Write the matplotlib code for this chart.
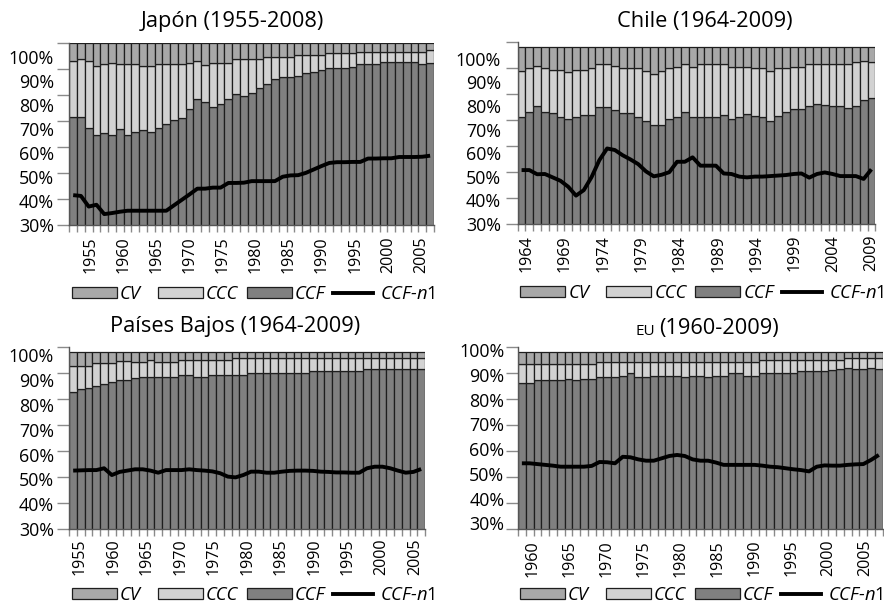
import matplotlib
matplotlib.use('Agg')
import matplotlib.pyplot as plt
from matplotlib.patches import Patch
from matplotlib.lines import Line2D
import numpy as np

plt.rcParams['font.family'] = ['Open Sans', 'DejaVu Sans']
plt.rcParams['mathtext.fontset'] = 'custom'
plt.rcParams['mathtext.rm'] = 'Open Sans'
plt.rcParams['mathtext.it'] = 'Open Sans:italic'

# ---------------- data (shares in %) ----------------
series_names = ['CV', 'CCC', 'CCF', 'CCF-n1']

jp_title = 'Japón (1955-2008)'
jp_ccf = [71.7, 71.7, 67.5, 64.7, 65.3, 64.7, 66.9, 64.7, 65.8, 66.7,
          66.0, 67.5, 68.9, 70.5, 71.4, 74.7, 78.4, 77.5, 75.3, 76.7,
          78.4, 80.3, 79.6, 81.0, 82.6, 84.5, 86.1, 86.9, 86.9, 87.4,
          88.4, 89.1, 89.7, 90.4, 90.4, 90.4, 91.0, 91.9, 91.9, 91.9,
          92.9, 92.9, 92.9, 92.9, 92.9, 91.9, 92.6]
jp_ccc = [21.6, 22.3, 25.8, 26.7, 26.6, 27.9, 25.0, 27.2, 26.1, 24.6,
          25.3, 24.4, 23.0, 21.4, 20.5, 17.9, 14.9, 14.2, 17.3, 15.9,
          14.2, 13.7, 14.4, 13.0, 11.4, 10.1, 8.5, 7.7, 7.7, 8.2,
          7.2, 6.5, 5.9, 5.7, 5.7, 5.7, 5.1, 4.9, 4.9, 4.9,
          3.9, 3.9, 3.9, 3.9, 3.9, 4.9, 4.8]
jp_cv = [6.7, 6.0, 6.7, 8.6, 8.1, 7.4, 8.1, 8.1, 8.1, 8.7,
         8.7, 8.1, 8.1, 8.1, 8.1, 7.4, 6.7, 8.3, 7.4, 7.4,
         7.4, 6.0, 6.0, 6.0, 6.0, 5.4, 5.4, 5.4, 5.4, 4.4,
         4.4, 4.4, 4.4, 3.9, 3.9, 3.9, 3.9, 3.2, 3.2, 3.2,
         3.2, 3.2, 3.2, 3.2, 3.2, 3.2, 2.6]
jp_n1 = [41.5, 41.2, 37.1, 37.8, 34.2, 34.6, 35.1, 35.5, 35.5, 35.5,
         35.5, 35.5, 35.5, 37.6, 39.7, 41.8, 44.0, 44.0, 44.4, 44.4,
         46.2, 46.2, 46.3, 46.9, 46.9, 46.9, 46.9, 48.6, 49.1, 49.2,
         50.1, 51.4, 52.7, 53.9, 54.2, 54.2, 54.3, 54.3, 55.6, 55.6,
         55.7, 55.7, 56.2, 56.2, 56.2, 56.3, 56.7]
jp_years = [1955, 1960, 1965, 1970, 1975, 1980, 1985, 1990, 1995, 2000, 2005]

cl_title = 'Chile (1964-2009)'
cl_ccf = [71.2, 73.1, 75.3, 73.1, 72.5, 70.9, 70.3, 71.2, 71.8, 71.8,
          75.0, 75.0, 73.8, 72.5, 72.5, 70.9, 69.5, 68.0, 68.0, 70.3,
          70.9, 73.1, 70.9, 70.9, 70.9, 71.2, 71.8, 70.3, 70.9, 72.2,
          71.6, 70.9, 69.7, 71.6, 73.1, 74.0, 74.0, 75.3, 76.1, 75.8,
          75.3, 75.3, 74.4, 75.3, 77.6, 78.2]
cl_ccc = [17.7, 16.7, 15.4, 16.7, 16.6, 18.2, 18.1, 17.9, 17.3, 18.0,
          16.3, 16.3, 16.9, 17.3, 17.3, 18.9, 19.4, 19.6, 20.9, 19.5,
          19.5, 18.2, 19.5, 20.4, 20.4, 20.1, 19.5, 20.1, 19.5, 18.2,
          18.2, 18.9, 19.2, 18.2, 16.7, 16.4, 16.4, 16.0, 15.2, 15.5,
          16.0, 16.0, 16.9, 16.8, 15.1, 13.9]
cl_cv = [8.9, 8.0, 7.1, 8.0, 8.7, 8.7, 9.4, 8.7, 8.7, 8.0,
         6.5, 6.5, 7.1, 8.0, 8.0, 8.0, 8.9, 10.2, 8.9, 8.0,
         7.4, 6.5, 7.4, 6.5, 6.5, 6.5, 6.5, 7.4, 7.4, 7.4,
         8.0, 8.0, 8.9, 8.0, 8.0, 7.4, 7.4, 6.5, 6.5, 6.5,
         6.5, 6.5, 6.5, 5.7, 5.1, 5.7]
cl_n1 = [50.7, 50.7, 49.1, 49.2, 47.9, 46.6, 44.3, 40.9, 43.0, 48.0,
         54.5, 59.0, 58.4, 56.4, 54.8, 53.0, 50.2, 48.3, 48.9, 49.9,
         53.9, 53.9, 55.6, 52.4, 52.4, 52.4, 49.4, 49.2, 48.2, 47.9,
         48.2, 48.2, 48.4, 48.6, 48.8, 49.2, 49.4, 47.8, 49.2, 49.8,
         49.2, 48.4, 48.4, 48.4, 47.3, 51.0]
cl_years = [1964, 1969, 1974, 1979, 1984, 1989, 1994, 1999, 2004, 2009]

nl_title = 'Países Bajos (1964-2009)'
nl_ccf = [82.8, 83.7, 84.3, 85.1, 85.6, 86.6, 87.2, 87.2, 87.9, 88.5,
          88.5, 88.5, 88.5, 88.5, 89.1, 89.1, 88.2, 88.2, 89.1, 89.1,
          89.1, 89.1, 89.1, 89.8, 89.8, 89.8, 89.8, 89.8, 89.8, 89.8,
          89.8, 90.7, 90.7, 90.7, 90.7, 90.7, 90.7, 90.7, 91.3, 91.3,
          91.3, 91.3, 91.3, 91.3, 91.3, 91.3]
nl_ccc = [9.8, 8.9, 8.3, 8.5, 8.0, 7.0, 7.4, 7.4, 6.2, 5.6,
          6.4, 5.6, 5.6, 5.6, 5.8, 5.8, 6.7, 6.7, 5.8, 5.8,
          5.8, 6.4, 6.4, 5.7, 5.7, 5.7, 5.7, 5.7, 5.7, 5.7,
          5.7, 4.8, 4.8, 4.8, 4.8, 4.8, 4.8, 4.8, 4.2, 4.2,
          4.2, 4.2, 4.2, 4.2, 4.2, 4.2]
nl_cv = [5.5, 5.5, 5.5, 4.5, 4.5, 4.5, 3.5, 3.5, 4.0, 4.0,
         3.2, 4.0, 4.0, 4.0, 3.2, 3.2, 3.2, 3.2, 3.2, 3.2,
         3.2, 2.6, 2.6, 2.6, 2.6, 2.6, 2.6, 2.6, 2.6, 2.6,
         2.6, 2.6, 2.6, 2.6, 2.6, 2.6, 2.6, 2.6, 2.6, 2.6,
         2.6, 2.6, 2.6, 2.6, 2.6, 2.6]
nl_n1 = [52.5, 52.6, 52.7, 52.7, 53.4, 50.8, 52.0, 52.5, 53.0, 53.0,
         52.5, 51.7, 52.7, 52.7, 52.7, 53.0, 52.7, 52.5, 52.2, 51.5,
         50.2, 49.9, 50.8, 52.1, 52.1, 51.7, 51.7, 52.1, 52.4, 52.5,
         52.5, 52.4, 52.1, 52.0, 51.8, 51.8, 51.7, 51.7, 53.4, 54.0,
         54.0, 53.4, 52.5, 51.7, 52.0, 53.1]
nl_years = [1955, 1960, 1965, 1970, 1975, 1980, 1985, 1990, 1995, 2000, 2005]

eu_prefix = 'EU'
eu_title = '(1960-2009)'
eu_ccf = [86.2, 86.2, 87.2, 87.2, 87.2, 87.2, 87.6, 87.2, 87.6, 87.6,
          88.2, 88.2, 88.2, 88.9, 90.1, 88.2, 88.2, 88.9, 88.9, 88.9,
          88.9, 88.2, 88.9, 88.9, 88.2, 88.9, 88.9, 89.8, 89.8, 88.9,
          88.9, 90.1, 90.1, 90.1, 90.1, 90.1, 90.7, 90.7, 90.7, 90.7,
          91.1, 91.3, 91.9, 91.3, 91.5, 91.9, 91.3]
eu_ccc = [7.2, 7.2, 6.2, 6.2, 6.2, 6.2, 5.8, 6.2, 5.8, 5.8,
          5.9, 5.9, 5.9, 5.2, 4.0, 5.9, 5.9, 5.2, 5.2, 5.2,
          5.2, 5.9, 5.2, 5.2, 5.9, 5.2, 5.2, 4.3, 4.3, 5.2,
          5.2, 4.7, 4.7, 4.7, 4.7, 4.7, 4.1, 4.1, 4.1, 4.1,
          3.7, 3.5, 3.6, 4.2, 4.0, 3.6, 4.2]
eu_cv = [4.5, 4.5, 4.5, 4.5, 4.5, 4.5, 4.5, 4.5, 4.5, 4.5,
         3.8, 3.8, 3.8, 3.8, 3.8, 3.8, 3.8, 3.8, 3.8, 3.8,
         3.8, 3.8, 3.8, 3.8, 3.8, 3.8, 3.8, 3.8, 3.8, 3.8,
         3.8, 3.1, 3.1, 3.1, 3.1, 3.1, 3.1, 3.1, 3.1, 3.1,
         3.1, 3.1, 2.4, 2.4, 2.4, 2.4, 2.4]
eu_n1 = [55.3, 55.3, 55.0, 54.7, 54.4, 54.0, 54.0, 54.0, 54.0, 54.3,
         55.8, 55.7, 55.3, 57.8, 57.6, 56.8, 56.3, 56.3, 57.2, 58.1,
         58.5, 58.1, 56.8, 56.3, 56.3, 55.6, 54.7, 54.7, 54.7, 54.7,
         54.7, 54.4, 54.0, 53.8, 53.4, 53.0, 52.7, 52.2, 54.0, 54.5,
         54.4, 54.4, 54.7, 54.9, 55.0, 56.6, 58.5]
eu_years = [1960, 1965, 1970, 1975, 1980, 1985, 1990, 1995, 2000, 2005]

pct_ticks = [30, 40, 50, 60, 70, 80, 90, 100]

# ---------------- style ----------------
C_CV, C_CCC, C_CCF = '#a8a8a8', '#d2d2d2', '#808080'
EDGE = '#1e1e1e'
TICK = '#8a8a8a'
FS = 12.9      # percentage labels
XFS = 11.6     # year labels
LFS = 13.2     # legend
TFS = 15.7     # titles
W, H = 884, 604
fig = plt.figure(figsize=(W / 100, H / 100), dpi=100)

LEG_OFF = [0.0, 86.0, 175.0, 261.5]   # px offsets of legend entries
PATCH_W, LINE_W = 45.0, 40.0


def legend_row(x0, y0):
    fs_px = LFS * 100 / 72
    handles = [Patch(facecolor=C_CV, edgecolor=EDGE, lw=0.9),
               Patch(facecolor=C_CCC, edgecolor=EDGE, lw=0.9),
               Patch(facecolor=C_CCF, edgecolor=EDGE, lw=0.9),
               Line2D([], [], color='black', lw=2.8)]
    labels = [series_names[0], series_names[1], series_names[2], 'CCF-n$\\mathrm{1}$']
    for k, (h, lab) in enumerate(zip(handles, labels)):
        is_line = k == 3
        fig.legend([h], [lab], loc='center left',
                   bbox_to_anchor=((x0 + LEG_OFF[k]) / W, 1 - y0 / H),
                   frameon=False, borderpad=0, borderaxespad=0,
                   handlelength=(LINE_W if is_line else PATCH_W) / fs_px,
                   handleheight=0.55,
                   handletextpad=(0.38 if is_line else 0.16),
                   prop=dict(family=['Open Sans'], style='italic', size=LFS))


def panel(rect, ccf, ccc, cv, n1, ylab_lim, ypad, year_lim, years, xpad, leg_xy):
    x0, y0, x1, y1 = rect
    ax = fig.add_axes([x0 / W, 1 - y1 / H, (x1 - x0) / W, (y1 - y0) / H])
    n = len(ccf)
    idx = np.arange(n)
    kw = dict(width=1.0, edgecolor=EDGE, linewidth=0.9)
    ax.bar(idx, ccf, color=C_CCF, **kw)
    ax.bar(idx, ccc, bottom=ccf, color=C_CCC, **kw)
    ax.bar(idx, cv, bottom=np.add(ccf, ccc), color=C_CV, **kw)
    ax.plot(idx, n1, color='black', lw=2.8, zorder=5, solid_capstyle='butt')
    ax.set_xlim(-0.5, n - 0.5)
    ax.set_ylim(30, 100)
    ax.set_yticks(pct_ticks)
    ax.tick_params(axis='y', length=9, width=1, color=TICK, labelleft=False)
    ax.set_xticks([])
    ax.set_xticks(np.arange(-0.5, n, 1.0), minor=True)
    ax.tick_params(axis='x', which='minor', length=5, width=1, color=TICK)
    for s in ('top', 'right'):
        ax.spines[s].set_visible(False)
    for s in ('left', 'bottom'):
        ax.spines[s].set_color('#555555')
        ax.spines[s].set_linewidth(1.0)
    ax.patch.set_visible(False)

    # percentage labels (own scale, as placed in the original)
    ay = ax.twinx()
    ay.set_ylim(*ylab_lim)
    ay.yaxis.tick_left()
    ay.set_yticks(pct_ticks)
    ay.set_yticklabels([f'{v}%' for v in pct_ticks])
    ay.tick_params(axis='y', length=0, pad=ypad, labelsize=FS)
    for s in ay.spines.values():
        s.set_visible(False)

    # year labels (own scale, as placed in the original)
    axx = ax.twiny()
    axx.set_xlim(*year_lim)
    axx.xaxis.tick_bottom()
    axx.set_xticks(years)
    axx.set_xticklabels([str(y) for y in years], rotation=90)
    axx.tick_params(axis='x', length=0, pad=xpad, labelsize=XFS)
    for s in axx.spines.values():
        s.set_visible(False)

    legend_row(*leg_xy)
    return ax


panel((69.3, 43.3, 434.0, 225.0), jp_ccf, jp_ccc, jp_cv, jp_n1,
      (33.0, 105.7), 11.0, (1951.83, 2006.92), jp_years, 8.4, (71.7, 294))
panel((517.7, 41.7, 875.3, 224.0), cl_ccf, cl_ccc, cl_cv, cl_n1,
      (33.8, 107.2), 12.0, (1962.85, 2009.5), cl_years, 7.9, (520.3, 293.3))
panel((69.3, 346.7, 425.0, 529.3), nl_ccf, nl_ccc, nl_cv, nl_n1,
      (30.3, 103.3), 11.0, (1953.4, 2006.5), nl_years, 6.5, (71.7, 595))
panel((518.0, 346.7, 882.7, 529.3), eu_ccf, eu_ccc, eu_cv, eu_n1,
      (27.6, 101.35), 9.8, (1958.0, 2007.4), eu_years, 7.7, (519.7, 595))

fig.text(232.5 / W, 1 - 21.7 / H, jp_title, ha='center', va='center', fontsize=TFS)
fig.text(704.5 / W, 1 - 21.7 / H, cl_title, ha='center', va='center', fontsize=TFS)
fig.text(235.0 / W, 1 - 326.7 / H, nl_title, ha='center', va='center', fontsize=TFS)
t_eu = fig.text(659.0 / W, 1 - 328.3 / H, eu_title, ha='left', va='center', fontsize=TFS)
fig.canvas.draw()
bb = t_eu.get_window_extent()
fig.text(655.3 / W, (bb.y0 + 4.0) / H, eu_prefix, ha='right', va='baseline',
         fontsize=TFS * 0.7)

fig.savefig('out.png', dpi=100)
